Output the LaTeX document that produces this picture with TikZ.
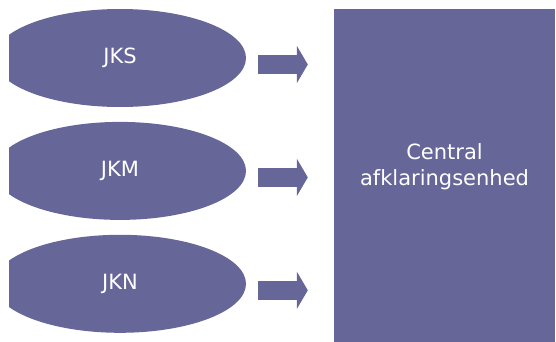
\documentclass[tikz,border=0pt]{standalone}
\usepackage{fontspec}
\setmainfont{DejaVu Sans}
\usetikzlibrary{shapes.geometric, arrows.meta, positioning}
\definecolor{cSlate}{RGB}{102,102,153}
\tikzset{
	unit/.style      ={ellipse, fill=cSlate, text=white, minimum width=252pt, minimum height=98pt, inner sep=0pt, font=\fontsize{21}{25}\selectfont},
	hub/.style       ={rectangle, fill=cSlate, minimum width=221pt, minimum height=333pt, inner sep=0pt},
	hubtext/.style   ={text=white, align=center, inner sep=0pt, font=\fontsize{21}{26}\selectfont},
	blockarrow/.style={cSlate, line width=19pt, -{Triangle[length=11pt, width=37pt]}, shorten <=12pt, shorten >=26pt},
}

\begin{document}
\begin{tikzpicture}[x=1pt, y=-1pt]
	\useasboundingbox (0,0) rectangle (556,342);
	\node[hub] (central) at (444.5,175.5) {};
	\node[hubtext] (centraltext) at ([yshift=9pt]central.center) {Central\\ afklaringsenhed};
	% units, cut off at the left edge
	\begin{scope}
		\clip (9,0) rectangle (556,342);
		\node[unit] (jks) at (120,58) {JKS};
		\node[unit, below=14.5pt of jks] (jkm) {JKM};
		\node[unit, below=14.5pt of jkm] (jkn) {JKN};
	\end{scope}
	\foreach \src in {jks, jkm, jkn}
		\draw[blockarrow] ([yshift=-6.5pt]\src.east) -- ([yshift=-6.5pt]\src.east -| central.west);
\end{tikzpicture}
\end{document}
